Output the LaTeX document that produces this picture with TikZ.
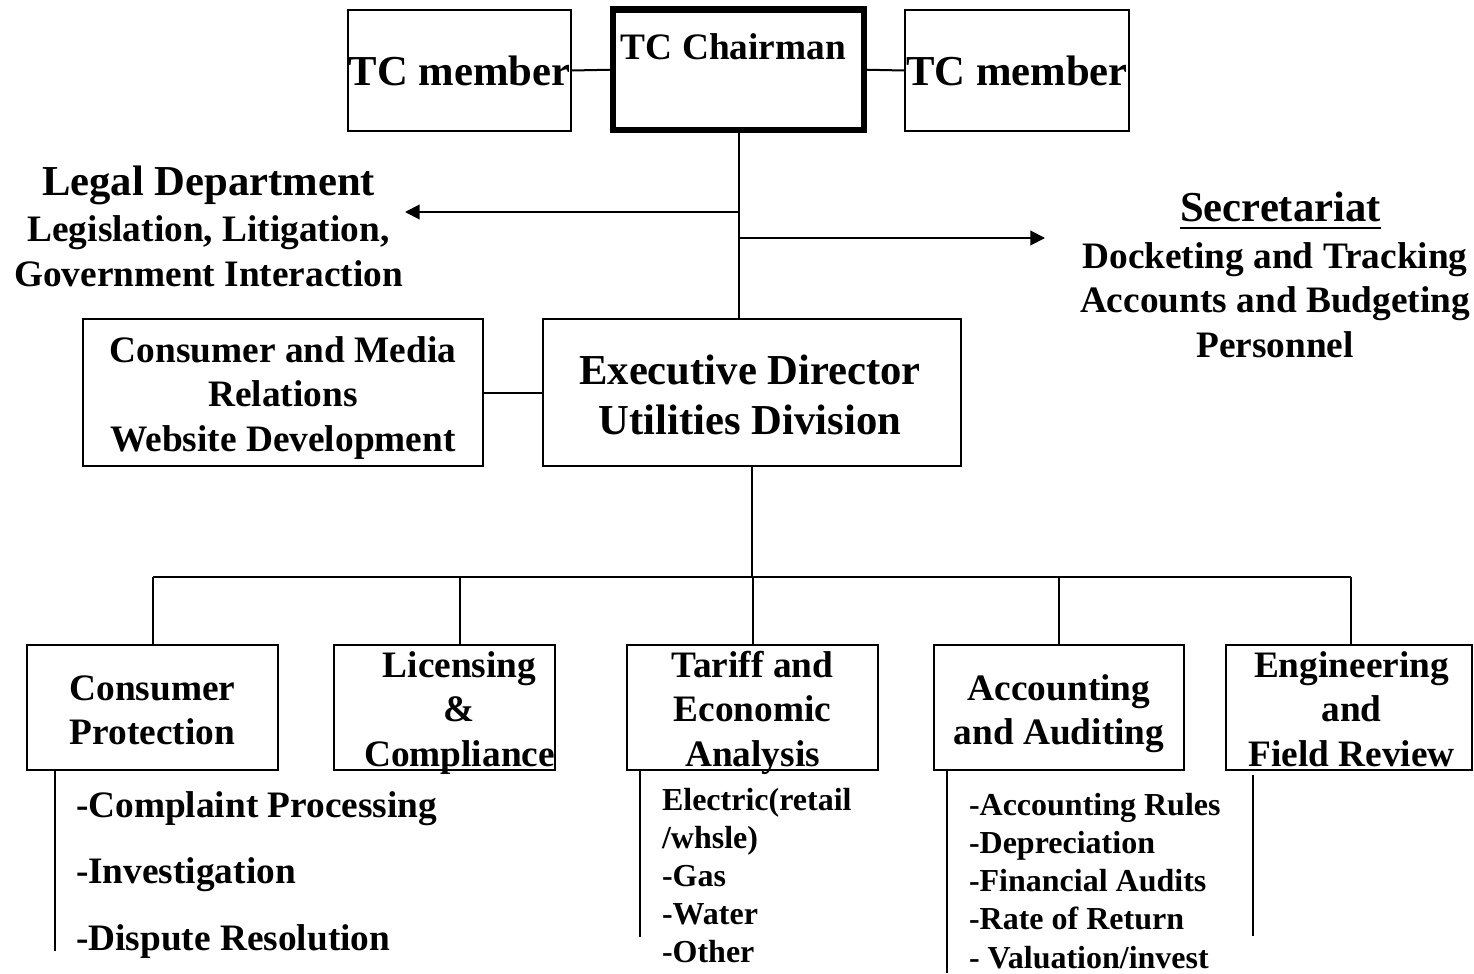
\documentclass[tikz,border=0pt]{standalone}
\usepackage{fontspec}
\setmainfont{Liberation Serif}
\usetikzlibrary{arrows.meta}
% heavier underline for headings
\newcommand\ulthick[1]{\setbox0\hbox{#1}\rlap{\rule[-2.8pt]{\wd0}{1.1pt}}\box0}
\tikzset{
  box/.style 2 args={draw,inner sep=0pt,minimum width=#1*0.375pt,minimum height=#2*0.375pt},
  txt/.style={inner sep=0pt,anchor=base,align=center,text width=170pt,
    execute at begin node={\spaceskip=0.25em\relax}},
  bigtxt/.style={txt,font=\fontsize{16}{18.75}\selectfont\bfseries},
  midtxt/.style={txt,font=\fontsize{14}{16.8}\selectfont\bfseries},
  smalltxt/.style={txt,font=\fontsize{12}{14.25}\selectfont\bfseries},
  listtxt/.style={align=left,anchor=base west},
  arr/.style={-{Triangle[length=5.5pt,width=5.5pt]}}
}

\begin{document}
\begin{tikzpicture}[x=0.375pt,y=-0.375pt,line width=0.75pt]
\useasboundingbox (0,0) rectangle (1474,973);

% Commission
\node[box={223}{121}] (mem1) at (459.5,70.5) {};
\node[box={251}{120.5},line width=2.4pt] (chair) at (738.5,69.75) {};
\node[box={224}{121}] (mem2) at (1017,70.5) {};
\node[bigtxt] (mem1t) at (459.5,86) {TC member};
\node[midtxt] (chairt) at (733.5,60) {TC Chairman};
\node[bigtxt] (mem2t) at (1017,86) {TC member};
\draw (mem1.east) -- (chair.west);
\draw (chair.east) -- (mem2.west);

% Directors
\node[box={400}{147}] (cm) at (283,392.5) {};
\node[box={418}{147}] (ed) at (752,392.5) {};
\node[midtxt] (cmt) at (283,362) {Consumer and Media\\Relations\\Website Development};
\node[bigtxt] (edt) at (750,384) {Executive Director\\Utilities Division};
\draw (cm.east) -- (ed.west);

% Staff offices
\coordinate (legal) at (405,212);
\coordinate (secr) at (1045,238);
\draw (chair.south) -- (chair.south |- ed.north);
\draw[arr] (chair.south |- legal) -- (legal);
\draw[arr] (chair.south |- secr) -- (secr);
\node[bigtxt] (legalt) at (208.5,196) {Legal Department};
\node[midtxt] (legalb) at (208.5,242) {Legislation, Litigation,\\Government Interaction};
\node[bigtxt] (secrt) at (1280.5,222) {\ulthick{Secretariat}};
\node[midtxt] (secrb) at (1275,268) {Docketing and Tracking\\Accounts and Budgeting\\Personnel};

% Divisions
\foreach \n/\x/\w in {cp/152.5/251,lic/444.5/221,tar/752.5/251,acc/1059/250,eng/1349/246}
  \node[box={\w}{125}] (\n) at (\x,707.5) {};
\node[midtxt] (cpt) at (152.5,700) {Consumer\\Protection};
\node[midtxt] (lict) at (459.5,677) {Licensing\\\&\\Compliance};
\node[midtxt] (tart) at (752.5,677) {Tariff and\\Economic\\Analysis};
\node[midtxt] (acct) at (1059,700) {Accounting\\and Auditing};
\node[midtxt] (engt) at (1351.5,677) {Engineering\\and\\Field Review};

% Bus to divisions
\coordinate (busl) at (152.5,577);
\coordinate (busr) at (1351,577);
\draw (busl) -- (busr);
\draw (ed.south) -- (ed.south |- busl);
\foreach \n/\x in {cp/152.5,lic/459.5,tar/752.5,acc/1059,eng/1351}
  \draw (\x,577) -- (\x,577 |- \n.north);

% Duties under each division
\coordinate (cpl) at (55,951);
\draw (cp.south -| cpl) -- (cpl);
\node[midtxt,listtxt,font=\fontsize{14}{25.1}\selectfont\bfseries] (cpj) at (75,817)
  {-Complaint Processing\\-Investigation\\-Dispute Resolution};
\coordinate (tarl) at (640,937);
\draw (tar.south -| tarl) -- (tarl);
\node[smalltxt,listtxt] (tarj) at (661,810)
  {Electric(retail\\/whsle)\\-Gas\\-Water\\-Other};
\coordinate (accl) at (947,973);
\draw (acc.south -| accl) -- (accl);
\node[smalltxt,listtxt,font=\fontsize{12}{14.36}\selectfont\bfseries] (accj) at (968,815)
  {-Accounting Rules\\-Depreciation\\-Financial Audits\\-Rate of Return\\- Valuation/invest};
\coordinate (engl) at (1253,936);
\draw (engl |- 0,775) -- (engl);
\end{tikzpicture}
\end{document}
